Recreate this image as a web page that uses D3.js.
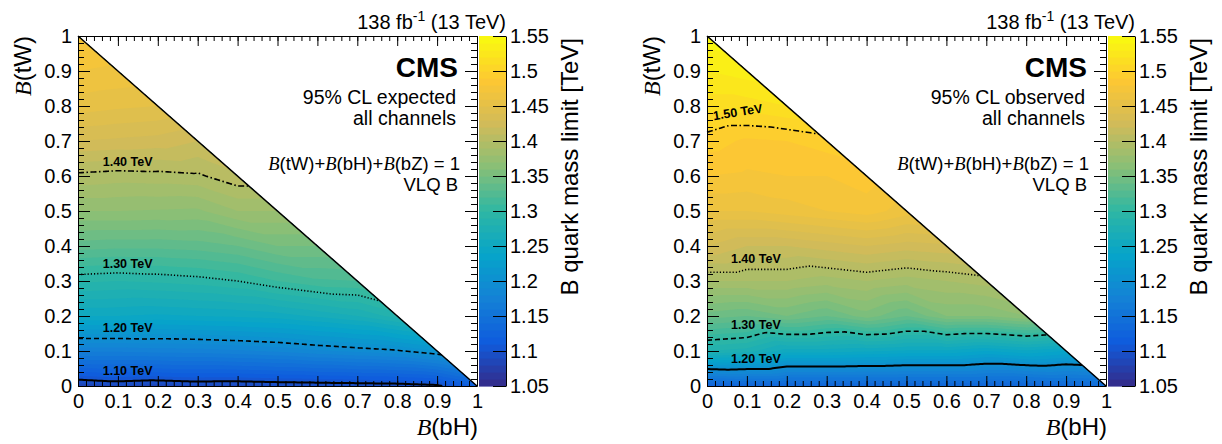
<!DOCTYPE html>
<html>
<head>
<meta charset="utf-8">
<script src="https://cdn.jsdelivr.net/npm/d3@7"></script>
<style>
  body { margin: 0; background: #fff; }
  svg { display: block; font-family: "Liberation Sans", Arial, sans-serif; }
</style>
</head>
<body>
<div id="chart"></div>
<script>
// mass limit (TeV) per B(bH) column; each column lists B(tW) = 0, 0.1, ... up to 1 - B(bH)
const bHColumns = [0, 0.1, 0.2, 0.3, 0.4, 0.5, 0.6, 0.7, 0.8, 0.9, 1];
const expectedLimit = [
  [1.084, 1.172, 1.250, 1.292, 1.335, 1.370, 1.397, 1.430, 1.455, 1.470, 1.480],
  [1.089, 1.172, 1.250, 1.290, 1.333, 1.370, 1.395, 1.428, 1.452, 1.468],
  [1.086, 1.174, 1.248, 1.292, 1.333, 1.369, 1.396, 1.426, 1.450],
  [1.089, 1.175, 1.250, 1.295, 1.335, 1.368, 1.398, 1.420],
  [1.088, 1.178, 1.252, 1.300, 1.340, 1.380, 1.408],
  [1.090, 1.182, 1.255, 1.310, 1.350, 1.380],
  [1.091, 1.188, 1.262, 1.318, 1.350],
  [1.092, 1.193, 1.270, 1.320],
  [1.093, 1.198, 1.285],
  [1.097, 1.210],
  [1.120]
];
const observedLimit = [
  [1.125, 1.280, 1.345, 1.390, 1.430, 1.460, 1.480, 1.495, 1.515, 1.530, 1.545],
  [1.130, 1.275, 1.340, 1.390, 1.420, 1.460, 1.478, 1.488, 1.515, 1.535],
  [1.130, 1.255, 1.350, 1.390, 1.420, 1.465, 1.480, 1.490, 1.520],
  [1.130, 1.255, 1.340, 1.385, 1.425, 1.470, 1.480, 1.495],
  [1.130, 1.252, 1.355, 1.390, 1.430, 1.475, 1.485],
  [1.130, 1.248, 1.340, 1.385, 1.425, 1.465],
  [1.130, 1.248, 1.360, 1.390, 1.428],
  [1.130, 1.240, 1.360, 1.395],
  [1.130, 1.248, 1.370],
  [1.135, 1.240],
  [1.140]
];
const expectedLevels = [1.1, 1.2, 1.3, 1.4];
const observedLevels = [1.2, 1.3, 1.4, 1.5];
const axisTicks = [0, 0.1, 0.2, 0.3, 0.4, 0.5, 0.6, 0.7, 0.8, 0.9, 1];
const zTicks = [1.05, 1.1, 1.15, 1.2, 1.25, 1.3, 1.35, 1.4, 1.45, 1.5, 1.55];
const zRange = [1.05, 1.55];

// ROOT kBird palette
const birdStops = [0.0, 0.125, 0.25, 0.375, 0.5, 0.625, 0.75, 0.875, 1.0];
const birdR = [0.2082, 0.0592, 0.0780, 0.0232, 0.1802, 0.5301, 0.8186, 0.9956, 0.9764];
const birdG = [0.1664, 0.3599, 0.5041, 0.6419, 0.7178, 0.7492, 0.7328, 0.7862, 0.9832];
const birdB = [0.5293, 0.8684, 0.8385, 0.7914, 0.6425, 0.4662, 0.3499, 0.1968, 0.0539];

const W = 1222, H = 444;
const frame = {left: 78, top: 36, width: 399, height: 350};
const zBar = {gap: 2, width: 27};
const nContours = 50;

const panels = [
  {offset: 0, grid: expectedLimit, levels: expectedLevels, cl: "95% CL expected",
   labels: [{b: 0.062, dy: -6, rot: 0}, {b: 0.062, dy: -6, rot: 0}, {b: 0.062, dy: -5, rot: 0}, {b: 0.062, dy: -6, rot: 0}]},
  {offset: 629, grid: observedLimit, levels: observedLevels, cl: "95% CL observed",
   labels: [{b: 0.06, dy: -7, rot: 0}, {b: 0.06, dy: -10, rot: 0}, {b: 0.06, dy: -9, rot: 0}, {b: 0.017, dy: -10, rot: -9}]}
];
const lineStyles = [
  {width: 2, dash: null},
  {width: 1.6, dash: "5,3"},
  {width: 1.6, dash: "1.2,2"},
  {width: 1.6, dash: "6,2.5,1.5,2.5"}
];

// linear interpolation on the triangular mesh of the grid
function limitAt(grid, b, t) {
  const over = b + t - 1;
  if (over > 0) { b -= over / 2; t -= over / 2; }
  b = Math.max(0, Math.min(1, b));
  t = Math.max(0, Math.min(1, t));
  const gb = b * 10, gt = t * 10;
  let i = Math.min(Math.floor(gb), 9), j = Math.min(Math.floor(gt), 9);
  while (i + j > 9) { if (i >= j) i--; else j--; }
  let u = gb - i, v = gt - j;
  if (u + v > 1 && i + j === 9) { const s = u + v; u /= s; v /= s; }
  if (u + v <= 1) {
    const f00 = grid[i][j], f10 = grid[i + 1][j], f01 = grid[i][j + 1];
    return f00 + u * (f10 - f00) + v * (f01 - f00);
  }
  const f11 = grid[i + 1][j + 1], f10 = grid[i + 1][j], f01 = grid[i][j + 1];
  return f11 + (1 - u) * (f01 - f11) + (1 - v) * (f10 - f11);
}

function bisect(fn, lo, hi) {
  const lowNeg = fn(lo) < 0;
  for (let n = 0; n < 40; n++) {
    const mid = (lo + hi) / 2;
    if ((fn(mid) < 0) === lowNeg) lo = mid; else hi = mid;
  }
  return (lo + hi) / 2;
}

function crossingAt(grid, b, level) {
  return bisect(t => limitAt(grid, b, t) - level, 0, 1 - b);
}

function isoLine(grid, level) {
  const pts = [], step = 0.005;
  for (let k = 0; k <= 200; k++) {
    const b = k * step, top = 1 - b;
    const v0 = limitAt(grid, b, 0), v1 = limitAt(grid, b, top);
    if (v0 < level && v1 >= level) {
      pts.push([b, crossingAt(grid, b, level)]);
    } else if (pts.length) {
      const bPrev = (k - 1) * step;
      if (v0 >= level) {
        pts.push([bisect(bb => limitAt(grid, bb, 0) - level, bPrev, b), 0]);
      } else {
        const be = bisect(bb => limitAt(grid, bb, 1 - bb) - level, bPrev, b);
        pts.push([be, 1 - be]);
      }
      break;
    }
  }
  return pts;
}

const svg = d3.select("#chart").append("svg").attr("width", W).attr("height", H);

const xs = d3.scaleLinear().domain([0, 1]).range([0, frame.width]);
const ys = d3.scaleLinear().domain([0, 1]).range([frame.height, 0]);
const zs = d3.scaleLinear().domain(zRange).range([frame.height, 0]);

const bird = d3.scaleLinear().domain(birdStops)
  .range(birdStops.map((s, k) => d3.rgb(birdR[k] * 255, birdG[k] * 255, birdB[k] * 255).formatHex()));
const zColor = v => bird((v - zRange[0]) / (zRange[1] - zRange[0]));
const zStep = (zRange[1] - zRange[0]) / nContours;
const zLevels = d3.range(nContours).map(k => zRange[0] + k * zStep);

const fmt = d3.format("~g");
const minorTicks = xs.ticks(50);
const fontFamily = '"Liberation Sans", Arial, sans-serif';
const serif = '"Liberation Serif", "Times New Roman", serif';
const line = d3.line().x(d => xs(d[0])).y(d => ys(d[1]));

function styleAxis(sel, size) {
  sel.attr("font-family", fontFamily).attr("font-size", size);
  sel.selectAll("line").attr("stroke", "#000");
  sel.selectAll("path.domain").attr("stroke", "#000");
  sel.selectAll("text").attr("fill", "#000");
}

panels.forEach((p, idx) => {
  const g = svg.append("g").attr("transform", `translate(${frame.left + p.offset},${frame.top})`);

  // triangle clip
  const clipId = "tri" + idx;
  g.append("clipPath").attr("id", clipId)
    .append("path").attr("d", line([[0, 0], [0, 1], [1, 0]]) + "Z");

  // filled colour bands
  const n = 241;
  const values = new Float64Array(n * n);
  for (let j = 0; j < n; j++) {
    for (let i = 0; i < n; i++) {
      values[j * n + i] = limitAt(p.grid, i / (n - 1), 1 - j / (n - 1));
    }
  }
  const bands = d3.contours().size([n, n]).thresholds(zLevels)(values);
  const proj = d3.geoTransform({
    point(x, y) { this.stream.point(xs((x - 0.5) / (n - 1)), ys(1 - (y - 0.5) / (n - 1))); }
  });
  const path = d3.geoPath(proj);
  g.append("g").attr("clip-path", `url(#${clipId})`)
    .selectAll("path").data(bands).join("path")
    .attr("d", path)
    .attr("fill", d => zColor(d.value + zStep / 2));

  // contour lines and labels
  p.levels.forEach((lev, k) => {
    const st = lineStyles[k];
    g.append("path")
      .attr("d", line(isoLine(p.grid, lev)))
      .attr("fill", "none")
      .attr("stroke", "#000")
      .attr("stroke-width", st.width)
      .attr("stroke-dasharray", st.dash);
    const lp = p.labels[k];
    const t0 = crossingAt(p.grid, lp.b, lev);
    g.append("text")
      .attr("transform", `translate(${xs(lp.b)},${ys(t0) + lp.dy}) rotate(${lp.rot})`)
      .attr("font-size", 12.5)
      .attr("font-weight", "bold")
      .text(d3.format(".2f")(lev) + " TeV");
  });

  // diagonal B(tW) + B(bH) = 1
  g.append("path").attr("d", line([[0, 1], [1, 0]]))
    .attr("stroke", "#000").attr("stroke-width", 1.5).attr("fill", "none");

  // axes with inward ticks on all sides
  g.append("g").attr("transform", `translate(0,${frame.height})`)
    .call(d3.axisBottom(xs).tickValues(axisTicks).tickFormat(fmt).tickSize(-10).tickSizeOuter(0).tickPadding(8))
    .call(s => styleAxis(s, 20));
  g.append("g").attr("transform", `translate(0,${frame.height})`)
    .call(d3.axisBottom(xs).tickValues(minorTicks).tickFormat("").tickSize(-5))
    .call(s => s.select(".domain").remove()).call(s => styleAxis(s, 20));
  g.append("g")
    .call(d3.axisTop(xs).tickValues(axisTicks).tickFormat("").tickSize(-10).tickSizeOuter(0))
    .call(s => styleAxis(s, 20));
  g.append("g")
    .call(d3.axisTop(xs).tickValues(minorTicks).tickFormat("").tickSize(-5))
    .call(s => s.select(".domain").remove()).call(s => styleAxis(s, 20));
  g.append("g")
    .call(d3.axisLeft(ys).tickValues(axisTicks).tickFormat(fmt).tickSize(-12).tickSizeOuter(0).tickPadding(6))
    .call(s => styleAxis(s, 20));
  g.append("g")
    .call(d3.axisLeft(ys).tickValues(minorTicks).tickFormat("").tickSize(-6))
    .call(s => s.select(".domain").remove()).call(s => styleAxis(s, 20));
  g.append("g").attr("transform", `translate(${frame.width},0)`)
    .call(d3.axisRight(ys).tickValues(axisTicks).tickFormat("").tickSize(-12).tickSizeOuter(0))
    .call(s => styleAxis(s, 20));
  g.append("g").attr("transform", `translate(${frame.width},0)`)
    .call(d3.axisRight(ys).tickValues(minorTicks).tickFormat("").tickSize(-6))
    .call(s => s.select(".domain").remove()).call(s => styleAxis(s, 20));

  // colour bar
  const cb = g.append("g").attr("transform", `translate(${frame.width + zBar.gap},0)`);
  cb.selectAll("rect").data(zLevels).join("rect")
    .attr("x", 0)
    .attr("width", zBar.width)
    .attr("y", d => zs(d + zStep))
    .attr("height", d => zs(d) - zs(d + zStep) + 0.6)
    .attr("fill", d => zColor(d + zStep / 2));
  cb.append("g").attr("transform", `translate(${zBar.width},0)`)
    .call(d3.axisRight(zs).tickValues(zTicks).tickFormat(fmt).tickSize(-13).tickSizeOuter(0).tickPadding(4))
    .call(s => styleAxis(s, 20));

  // axis titles
  const yTitle = g.append("text")
    .attr("transform", `translate(-47,0) rotate(-90)`)
    .attr("text-anchor", "end").attr("font-size", 24);
  yTitle.append("tspan").attr("font-family", serif).attr("font-style", "italic").text("B");
  yTitle.append("tspan").text("(tW)");

  const xTitle = g.append("text")
    .attr("x", frame.width + 1).attr("y", 399)
    .attr("text-anchor", "end").attr("font-size", 24);
  xTitle.append("tspan").attr("font-family", serif).attr("font-style", "italic").text("B");
  xTitle.append("tspan").text("(bH)");

  g.append("text")
    .attr("transform", `translate(${frame.width + 101},2) rotate(-90)`)
    .attr("text-anchor", "end").attr("font-size", 24)
    .text("B quark mass limit [TeV]");

  // luminosity label
  const lumi = g.append("text")
    .attr("x", frame.width + zBar.gap + zBar.width).attr("y", -7)
    .attr("text-anchor", "end").attr("font-size", 20);
  lumi.append("tspan").text("138 fb");
  lumi.append("tspan").attr("dy", -8).attr("font-size", 14).text("-1");
  lumi.append("tspan").attr("dy", 8).text(" (13 TeV)");

  // CMS and legend text
  const rx = 380;
  g.append("text").attr("x", rx).attr("y", 41).attr("text-anchor", "end")
    .attr("font-size", 28).attr("font-weight", "bold").text("CMS");
  g.append("text").attr("x", rx - 2).attr("y", 68).attr("text-anchor", "end")
    .attr("font-size", 19.5).text(p.cl);
  g.append("text").attr("x", rx - 2).attr("y", 89).attr("text-anchor", "end")
    .attr("font-size", 19.5).text("all channels");
  const br = g.append("text").attr("x", rx + 2).attr("y", 134).attr("text-anchor", "end")
    .attr("font-size", 18.5);
  ["tW", "bH", "bZ"].forEach((ch, k) => {
    br.append("tspan").attr("font-family", serif).attr("font-style", "italic").text("B");
    br.append("tspan").text(`(${ch})` + (k < 2 ? "+" : " = 1"));
  });
  g.append("text").attr("x", rx).attr("y", 155).attr("text-anchor", "end")
    .attr("font-size", 18.5).text("VLQ B");
});
</script>
</body>
</html>
